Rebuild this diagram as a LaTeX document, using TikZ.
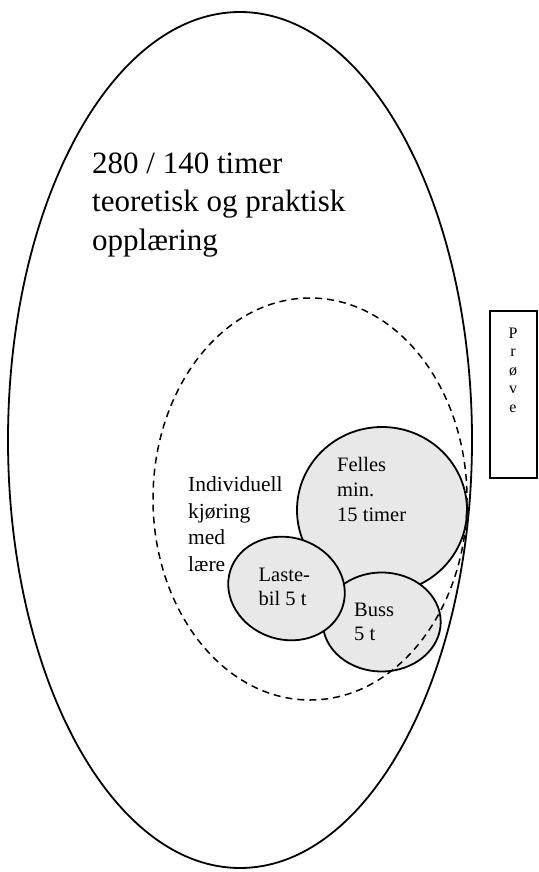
\documentclass[tikz,border=0pt]{standalone}
\usepackage{fontspec}
\setmainfont{Liberation Serif}
\begin{document}
\begin{tikzpicture}[x=1pt,y=-1pt,
  outline/.style={line width=1.8pt},
  blob/.style={outline,fill=black!9},
  lbl/.style={inner sep=0pt,anchor=base west,align=left}]
\useasboundingbox (0,0) rectangle (538,872);

% outer training period
\draw[outline] (240,440) ellipse[x radius=232,y radius=428];
% multi-line labels are placed by the baseline of their last line
\node[lbl,font=\fontsize{31}{38.5}\selectfont] (total) at (92,250) {280 / 140 timer\\teoretisk og praktisk\\oppl\ae ring};

% label of the individual driving region, partly hidden by the blobs
\node[lbl,font=\fontsize{21.5}{26.7}\selectfont] (indiv) at (188,571.5) {Individuell\\kjøring\\med\\lære};

% driving blobs
\draw[blob] (382,510) ellipse[x radius=85,y radius=83];
\draw[blob] (381.7,622) ellipse[x radius=59,y radius=49.5];
\draw[blob,rotate around={-18:(286.5,588.5)}] (286.5,588.5) ellipse[x radius=59,y radius=51];

% individual driving region
\draw[line width=1.5pt,dash pattern=on 7pt off 5pt] (310,499) ellipse[x radius=157,y radius=201];

\node[lbl,font=\fontsize{20.5}{25}\selectfont] (felles) at (337,521.5) {Felles\\min.\\15 timer};
\node[lbl,font=\fontsize{20.5}{23.5}\selectfont] (laste) at (258.5,605) {Laste-\\bil 5 t};
\node[lbl,font=\fontsize{20.5}{24}\selectfont] (buss) at (354,640.5) {Buss\\5 t};

% exam box
\node[draw,line width=1.2pt,minimum width=47pt,minimum height=167pt,inner sep=0pt] (provebox) at (513.5,394.5) {};
\node[font=\fontsize{16}{18.5}\selectfont,inner sep=0pt,anchor=base,align=center] (prove) at (513,412) {P\\r\\ø\\v\\e};
\end{tikzpicture}
\end{document}
